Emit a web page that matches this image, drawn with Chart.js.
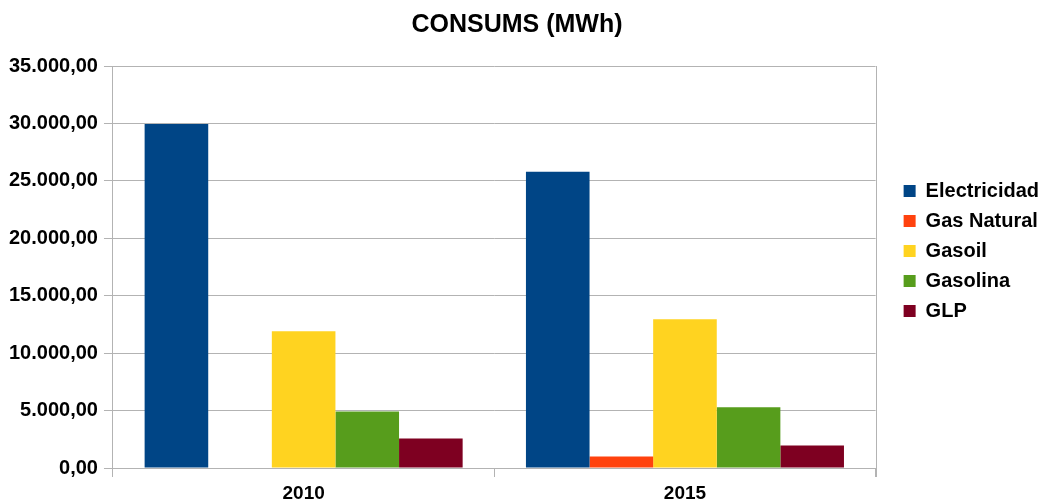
<!DOCTYPE html>
<html>
<head>
<meta charset="utf-8">
<script src="https://cdn.jsdelivr.net/npm/chart.js@4.4.0/dist/chart.umd.min.js"></script>
<style>
  html, body { margin: 0; padding: 0; background: #fff; }
  #wrap { width: 1041px; height: 503px; }
</style>
</head>
<body>
<div id="wrap"><canvas id="consums"></canvas></div>
<script>
const years = ['2010', '2015'];
const electricidad = [29950, 25800];
const gasNatural = [0, 1000];
const gasoil = [11900, 12950];
const gasolina = [4930, 5280];
const glp = [2570, 1960];

function fmt(v) {
  let parts = Math.abs(v).toFixed(2).split('.');
  let intPart = parts[0].replace(/\B(?=(\d{3})+(?!\d))/g, '.');
  return intPart + ',' + parts[1];
}

// right edge of the plot area, the last category boundary
const rightLine = {
  id: 'rightLine',
  afterDraw(chart) {
    let a = chart.chartArea;
    let c = chart.ctx;
    c.save();
    c.strokeStyle = '#b3b3b3';
    c.lineWidth = 1;
    c.beginPath();
    c.moveTo(Math.round(a.right) + 0.5, a.top);
    c.lineTo(Math.round(a.right) + 0.5, a.bottom + 9);
    c.stroke();
    c.restore();
  },
};

// push the legend a bit away from the plot
const legendShift = {
  id: 'legendShift',
  afterLayout(chart) {
    chart.legend.left += 18;
    chart.legend.right += 18;
    chart.legend.top -= 4;
    chart.legend.bottom -= 4;
  },
};

document.addEventListener('DOMContentLoaded', (ev) => {
  Chart.defaults.font.family = '"Liberation Sans", Arial, sans-serif';
  Chart.defaults.color = '#000';
  let ctx = document.getElementById('consums').getContext('2d');
  let myChart = new Chart(ctx, {
    type: 'bar',
    data: {
      labels: years,
      datasets: [
        { label: 'Electricidad', data: electricidad, backgroundColor: '#004586' },
        { label: 'Gas Natural', data: gasNatural, backgroundColor: '#ff420e' },
        { label: 'Gasoil', data: gasoil, backgroundColor: '#ffd320' },
        { label: 'Gasolina', data: gasolina, backgroundColor: '#579d1c' },
        { label: 'GLP', data: glp, backgroundColor: '#7e0021' },
      ],
    },
    options: {
      responsive: true,
      maintainAspectRatio: false,
      animation: false,
      layout: { padding: { left: 3, right: 10, top: 0, bottom: -7 } },
      datasets: {
        bar: { categoryPercentage: 0.834, barPercentage: 1.0 },
      },
      scales: {
        x: {
          grid: {
            offset: true,
            drawOnChartArea: false,
            color: '#b3b3b3',
            tickLength: 9,
          },
          border: { color: '#b3b3b3' },
          ticks: { font: { size: 19, weight: 'bold', lineHeight: 1.0 }, padding: 7 },
        },
        y: {
          min: 0,
          max: 35000,
          grid: { color: '#b3b3b3', tickLength: 9 },
          border: { color: '#b3b3b3' },
          ticks: {
            stepSize: 5000,
            font: { size: 20, weight: 'bold' },
            padding: 6,
            callback: (v) => fmt(v),
          },
        },
      },
      plugins: {
        title: {
          display: true,
          text: 'CONSUMS (MWh)',
          font: { size: 25, weight: 'bold' },
          padding: { top: 10, bottom: 26 },
        },
        legend: {
          position: 'right',
          labels: {
            boxWidth: 12,
            boxHeight: 12,
            padding: 10,
            font: { size: 20, weight: 'bold' },
          },
        },
        tooltip: { enabled: false },
      },
    },
    plugins: [rightLine, legendShift],
  });
});
</script>
</body>
</html>
